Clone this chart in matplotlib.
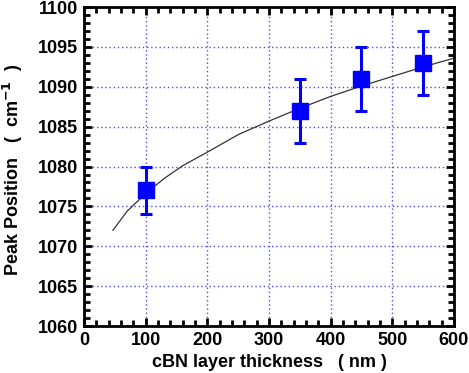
import matplotlib.pyplot as plt
from matplotlib.ticker import MultipleLocator

plt.rcParams['font.family'] = ['Liberation Sans', 'DejaVu Sans']
plt.rcParams['font.weight'] = 'bold'

# measured peak positions
thickness = [100, 350, 450, 550]
peak = [1077, 1087, 1091, 1093]
peak_err = [3, 4, 4, 4]

# fitted curve
fit_x = [47, 70, 100, 130, 160, 200, 250, 300, 350, 400, 450, 500, 550, 600]
fit_y = [1072.0, 1074.4, 1076.6, 1078.5, 1080.1, 1081.8, 1084.0, 1085.7,
         1087.3, 1088.8, 1090.1, 1091.3, 1092.5, 1093.6]

fig = plt.figure(figsize=(4.69, 3.73), dpi=100)
ax = fig.add_axes([0.179, 0.126, 0.789, 0.855])

ax.grid(True, which='major', color='#4a4aff', linestyle=(0, (1, 2)), linewidth=1.0)
ax.set_axisbelow(True)

ax.plot(fit_x, fit_y, color='#333333', linewidth=0.9, zorder=2)
ax.errorbar(thickness, peak, yerr=peak_err, fmt='s', color='#0000ff',
            markersize=12, elinewidth=2.2, capsize=4.5, capthick=2.2, zorder=3)

ax.set_xlim(0, 600)
ax.set_ylim(1060, 1100)
ax.xaxis.set_major_locator(MultipleLocator(100))
ax.xaxis.set_minor_locator(MultipleLocator(20))
ax.yaxis.set_major_locator(MultipleLocator(5))
ax.yaxis.set_minor_locator(MultipleLocator(1))

ax.tick_params(which='both', direction='in', top=True, right=True,
               width=2, labelsize=13, pad=4)
ax.tick_params(which='major', length=6)
ax.tick_params(which='minor', length=4.5)
for lab in ax.get_xticklabels() + ax.get_yticklabels():
    lab.set_fontweight('bold')
for sp in ax.spines.values():
    sp.set_linewidth(2)

ax.set_xlabel('cBN layer thickness   ( nm )', fontsize=13, fontweight='bold')
ax.set_ylabel('Peak Position   (  cm$^{\\mathbf{-1}}$  )', fontsize=13,
              fontweight='bold')
ax.yaxis.set_label_coords(-0.158, 0.49)

fig.savefig('out.png', dpi=100)
